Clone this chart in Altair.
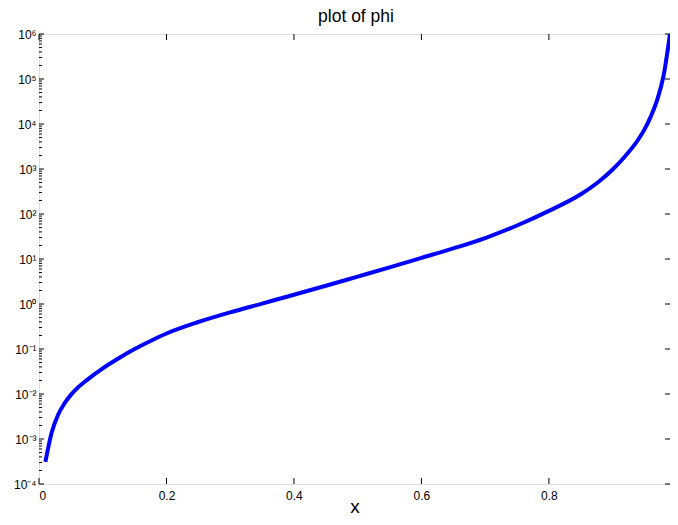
import altair as alt
import pandas as pd

# data
x_vals = [0.01, 0.02, 0.03, 0.04, 0.05, 0.06, 0.075, 0.1, 0.125, 0.15, 0.175, 0.2,
          0.25, 0.3, 0.35, 0.4, 0.45, 0.5, 0.55, 0.6, 0.65, 0.7, 0.75, 0.8,
          0.85, 0.88, 0.9, 0.92, 0.94, 0.95, 0.96, 0.97, 0.98, 0.99]
phi_vals = [3.09e-4, 1.41e-3, 3.47e-3, 6.17e-3, 9.55e-3, 0.0135, 0.0204, 0.0372,
            0.0624, 0.100, 0.151, 0.221, 0.398, 0.653, 1.023, 1.603, 2.54, 4.07,
            6.53, 10.59, 17.18, 29.2, 55.6, 117.5, 275, 550, 977, 1950, 4467,
            7586, 14790, 34670, 120200, 1.0e6]

x_ticks = [0, 0.2, 0.4, 0.6, 0.8]
y_major = [1e-4, 1e-3, 1e-2, 1e-1, 1e0, 1e1, 1e2, 1e3, 1e4, 1e5, 1e6]
y_labels = ["10⁻⁴", "10⁻³", "10⁻²", "10⁻¹", "10⁰", "10¹", "10²", "10³",
            "10⁴", "10⁵", "10⁶"]
minor_mult = [2, 3, 4, 5, 6, 7, 8, 9]
y_minor = [m * d for d in y_major[:-1] for m in minor_mult]
title_text = "plot of phi"

W, H = 631, 450
FONT = "Liberation Sans"

df = pd.DataFrame({"x": x_vals, "phi": phi_vals})
xs = alt.Scale(domain=[0, 0.99], nice=False, zero=False)
ys = alt.Scale(type="log", domain=[1e-4, 1e6], nice=False)

label_expr = "[" + ",".join("'%s'" % l for l in y_labels) + "][round(log(datum.value)/LN10)+4]"

x_axis = alt.Axis(
    values=x_ticks, ticks=False, domain=False, grid=False, format="~g",
    labelFontSize=12, labelPadding=6, labelColor="black", labelFont=FONT,
    title="x", titleFontSize=19, titleFontWeight="normal", titleFont=FONT,
    titleColor="black", titleBaseline="alphabetic", titleY=28)
y_axis = alt.Axis(
    values=y_major, ticks=False, domain=False, grid=False,
    labelExpr=label_expr, labelFontSize=12, labelPadding=3,
    labelColor="black", labelFont=FONT, title=None)

line = alt.Chart(df).mark_line(
    color="#0000FF", strokeWidth=4, interpolate="monotone", clip=True
).encode(
    x=alt.X("x:Q", scale=xs, axis=x_axis),
    y=alt.Y("phi:Q", scale=ys, axis=y_axis),
)

def yticks(vals, x1, x2):
    return alt.Chart(pd.DataFrame({"v": vals})).mark_rule(
        color="black", strokeWidth=1
    ).encode(y=alt.Y("v:Q", scale=ys, axis=y_axis), x=alt.value(x1), x2=alt.value(x2))

def xticks(vals, y1, y2):
    return alt.Chart(pd.DataFrame({"v": vals})).mark_rule(
        color="black", strokeWidth=1
    ).encode(x=alt.X("v:Q", scale=xs, axis=x_axis), y=alt.value(y1), y2=alt.value(y2))

title = alt.Chart(pd.DataFrame({"t": [title_text]})).mark_text(
    fontSize=17.5, font=FONT, color="black", align="center",
    baseline="alphabetic", clip=False
).encode(text="t:N", x=alt.value(317), y=alt.value(-12))

chart = alt.layer(
    line,
    yticks(y_major, 0, 5),
    yticks(y_minor, 0, 3),
    yticks(y_major, W - 5, W),
    xticks(x_ticks, H, H - 6),
    xticks(x_ticks, 0, 6),
    title,
).properties(
    width=W, height=H,
    autosize=alt.AutoSizeParams(type="none"),
    padding={"left": 31, "top": 26, "right": 0, "bottom": 33},
).configure_view(
    stroke="#333333", strokeWidth=1
).configure(background="white")

chart.save("out.html", embed_options={"renderer": "svg", "actions": False})
